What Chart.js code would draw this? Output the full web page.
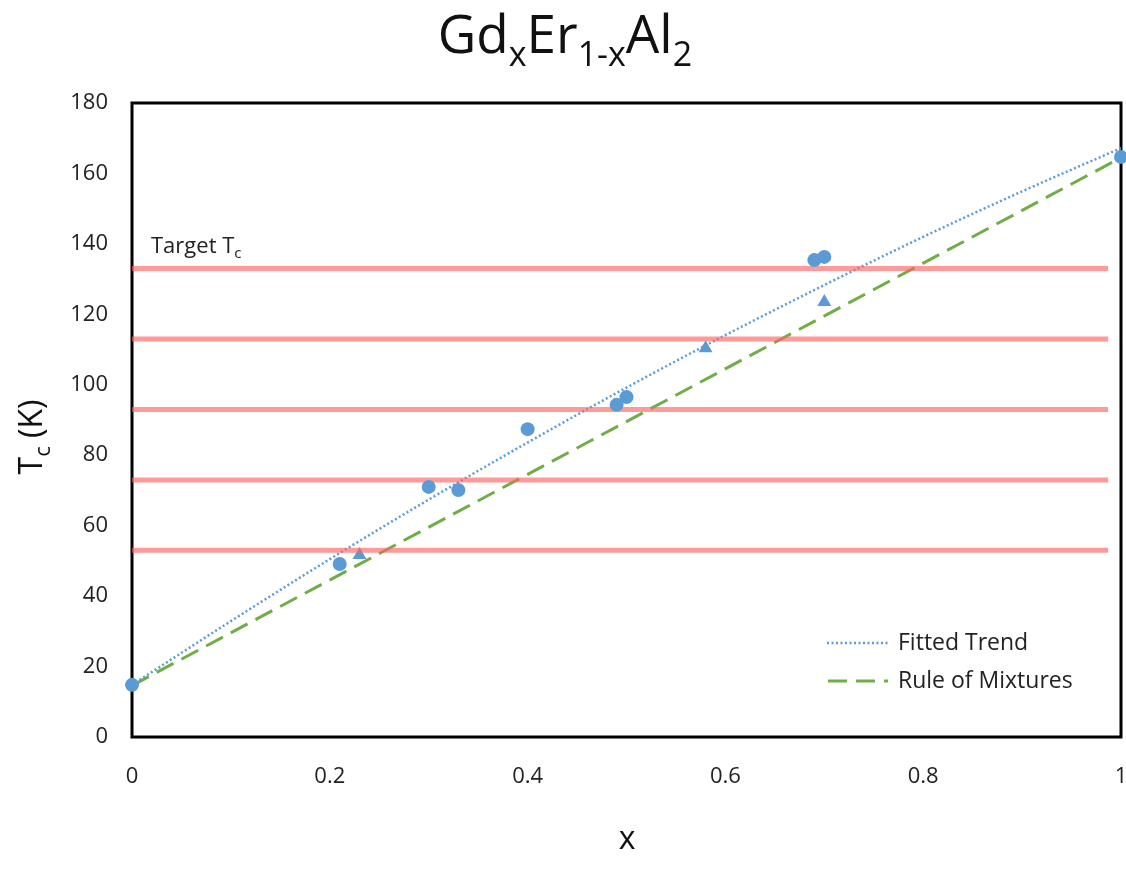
<!DOCTYPE html>
<html>
<head>
<meta charset="utf-8">
<script src="https://cdn.jsdelivr.net/npm/chart.js@4.4.0/dist/chart.umd.min.js"></script>
<style>
html,body{margin:0;padding:0;background:#fff;}
#wrap{width:1126px;height:884px;}
</style>
</head>
<body>
<div id="wrap"><canvas id="c" width="1126" height="884"></canvas></div>
<script>
// ---- data ----
const circleX = [0, 0.21, 0.30, 0.33, 0.40, 0.49, 0.50, 0.69, 0.70, 1.0];
const circleY = [14.8, 49.1, 71.0, 70.1, 87.4, 94.3, 96.5, 135.4, 136.3, 164.7];
const triangleX = [0.23, 0.58, 0.70];
const triangleY = [51.7, 110.4, 123.5];
// fitted trend (curved)
const trendX = [0, 0.1, 0.2, 0.3, 0.4, 0.5, 0.6, 0.7, 0.8, 0.9, 1.0];
const trendY = [14.8, 32.9, 50.5, 67.4, 83.6, 99.2, 114.1, 128.3, 142.0, 154.9, 167.2];
const mixX = [0, 1];
const mixY = [14.6, 164.5];
const targetTc = [133, 113, 93, 73, 53];
const targetSpan = [0, 0.987];
const yTicks = [0, 20, 40, 60, 80, 100, 120, 140, 160, 180];
const xTicks = [0, 0.2, 0.4, 0.6, 0.8, 1];
const legendLabels = ["Fitted Trend", "Rule of Mixtures"];

const FONT = "'Open Sans', 'Noto Sans', sans-serif";
const BLUE = '#5B9BD5';
const GREEN = '#70AD47';
const RED = 'rgba(255,100,100,0.65)';

const toPts = (xs, ys) => xs.map((x, i) => ({x: x, y: ys[i]}));

const datasets = [];
targetTc.forEach(v => {
  datasets.push({
    label: 'target', data: targetSpan.map(x => ({x: x, y: v})),
    showLine: true, borderColor: RED, borderWidth: 5, pointRadius: 0, fill: false, order: 0
  });
});
datasets.push({
  label: legendLabels[0], data: toPts(trendX, trendY), showLine: true, cubicInterpolationMode: 'monotone',
  borderColor: BLUE, borderWidth: 2.5, borderDash: [2, 2.5], pointRadius: 0, order: 2
});
datasets.push({
  label: legendLabels[1], data: toPts(mixX, mixY), showLine: true,
  borderColor: GREEN, borderWidth: 3, borderDash: [19, 9], pointRadius: 0, order: 2
});
datasets.push({
  label: 'circles', data: toPts(circleX, circleY), showLine: false, clip: false,
  pointStyle: 'circle', pointRadius: 7, backgroundColor: BLUE, borderColor: BLUE, borderWidth: 0, order: -1
});
datasets.push({
  label: 'triangles', data: toPts(triangleX, triangleY), showLine: false, clip: false,
  pointStyle: 'triangle', pointRadius: 8, backgroundColor: BLUE, borderColor: BLUE, borderWidth: 0, order: 1
});

function drawSegs(ctx, segs, cx, baseline, mainSize, subSize, subDrop, align) {
  let total = 0;
  segs.forEach(s => {
    ctx.font = (s[1] ? subSize : mainSize) + 'px ' + FONT;
    total += ctx.measureText(s[0]).width;
  });
  let x = align === 'center' ? cx - total / 2 : cx;
  ctx.textAlign = 'left';
  ctx.textBaseline = 'alphabetic';
  segs.forEach(s => {
    ctx.font = (s[1] ? subSize : mainSize) + 'px ' + FONT;
    ctx.fillText(s[0], x, baseline + (s[1] ? subDrop : 0));
    x += ctx.measureText(s[0]).width;
  });
}

const deco = {
  id: 'deco',
  beforeDatasetsDraw(chart) {
    const ctx = chart.ctx;
    const a = chart.chartArea;
    ctx.save();
    ctx.strokeStyle = '#000';
    ctx.lineWidth = 3;
    ctx.strokeRect(a.left, a.top, a.right - a.left, a.bottom - a.top);
    ctx.restore();
  },
  afterDraw(chart) {
    const ctx = chart.ctx;
    ctx.save();
    ctx.fillStyle = '#111';
    drawSegs(ctx, [['Gd', false], ['x', true], ['Er', false], ['1-x', true], ['Al', false], ['2', true]],
      565, 53, 53, 34, 13, 'center');
    ctx.font = '32px ' + FONT;
    ctx.textAlign = 'center';
    ctx.textBaseline = 'middle';
    ctx.fillText('x', 627, 840);
    ctx.save();
    ctx.translate(42, 437);
    ctx.rotate(-Math.PI / 2);
    drawSegs(ctx, [['T', false], ['c', true], [' (K)', false]], 0, 0, 32, 22, 8, 'center');
    ctx.restore();
    ctx.fillStyle = '#222';
    drawSegs(ctx, [['Target T', false], ['c', true]], 151, 253, 22, 15, 5, 'left');
    ctx.lineWidth = 2.5;
    ctx.strokeStyle = BLUE;
    ctx.setLineDash([2, 2.5]);
    ctx.beginPath(); ctx.moveTo(827, 643); ctx.lineTo(888, 643); ctx.stroke();
    ctx.lineWidth = 3;
    ctx.strokeStyle = GREEN;
    ctx.setLineDash([19, 9]);
    ctx.beginPath(); ctx.moveTo(828, 681); ctx.lineTo(888, 681); ctx.stroke();
    ctx.setLineDash([]);
    ctx.fillStyle = '#222';
    ctx.font = '23px ' + FONT;
    ctx.textAlign = 'left';
    ctx.textBaseline = 'middle';
    ctx.fillText(legendLabels[0], 898, 643);
    ctx.fillText(legendLabels[1], 898, 681);
    ctx.restore();
  }
};

new Chart(document.getElementById('c'), {
  type: 'scatter',
  data: {datasets: datasets},
  options: {
    responsive: false,
    animation: false,
    layout: {autoPadding: false, padding: {top: 103, right: 5, left: 0, bottom: 0}},
    plugins: {legend: {display: false}, tooltip: {enabled: false}, title: {display: false}},
    scales: {
      x: {
        type: 'linear', min: 0, max: 1,
        grid: {display: false, drawTicks: false},
        border: {display: false},
        afterBuildTicks: s => { s.ticks = xTicks.map(v => ({value: v})); },
        afterFit: s => { s.height = 884 - 737; s.paddingLeft = 0; s.paddingRight = 0; },
        ticks: {padding: 27, color: '#222', font: {family: FONT, size: 22},
                callback: v => String(v)}
      },
      y: {
        type: 'linear', min: 0, max: 180,
        grid: {display: false, drawTicks: false},
        border: {display: false},
        afterBuildTicks: s => { s.ticks = yTicks.map(v => ({value: v})); },
        afterFit: s => { s.width = 132; s.paddingTop = 0; s.paddingBottom = 0; },
        ticks: {padding: 24, color: '#222', font: {family: FONT, size: 22},
                callback: v => String(v)}
      }
    }
  },
  plugins: [deco]
});
</script>
</body>
</html>
